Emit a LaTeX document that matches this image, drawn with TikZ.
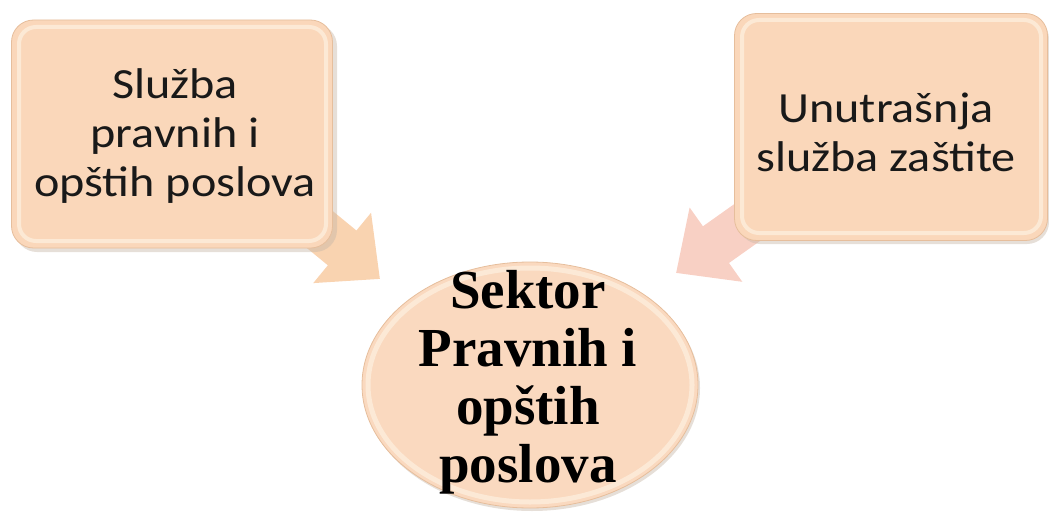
\documentclass[tikz,border=0pt]{standalone}
\usepackage{fontspec}
\setmainfont{Carlito}[FakeStretch=1.12]
\newfontfamily\serifbold{Liberation Serif Bold}
\usetikzlibrary{arrows.meta,shapes.geometric}
\definecolor{peach}{HTML}{FAD7BA}
\definecolor{peachrim}{HTML}{FDEEDC}
\definecolor{peachedge}{HTML}{E6BE9C}
\definecolor{arrowL}{HTML}{F9D3B0}
\definecolor{arrowR}{HTML}{F8D0C4}
\definecolor{circfill}{HTML}{FAD9BF}
\definecolor{shadowc}{HTML}{C8B8A8}
\tikzset{
  boxnode/.style={rounded corners=22pt, fill=peach, draw=peachedge, line width=0.8pt, inner sep=0pt},
  boxtext/.style={align=center, text=black!90, font=\fontsize{43}{49}\selectfont},
  ellnode/.style={ellipse, fill=circfill, draw=peachedge, line width=0.8pt, inner sep=0pt},
  elltext/.style={align=center, font=\serifbold\fontsize{55}{58}\selectfont},
  rim/.style={peachrim, line width=4pt, opacity=0.8},
  shade/.style={shadowc, opacity=0.45},
  bigarrow/.style={line width=45pt, -{Triangle[length=49pt,width=88pt]}},
}
\begin{document}
\begin{tikzpicture}[x=1pt,y=-1pt]
\useasboundingbox (0,0) rectangle (1049,519);
% arrows (behind boxes)
\coordinate (s1) at (296,210);
\coordinate (t1) at (380,279);
\coordinate (s2) at (762,212);
\coordinate (t2) at (676,273);
\draw[bigarrow, draw=arrowL, fill=arrowL] (s1) -- (t1);
\draw[bigarrow, draw=arrowR, fill=arrowR] (s2) -- (t2);
% shadows
\fill[shade, rounded corners=22pt] (15,24) rectangle (337,252);
\fill[shade, rounded corners=22pt] (738,17) rectangle (1049,244);
\fill[shade] (532,388) ellipse [x radius=168, y radius=123];
% boxes
\node[boxnode, minimum width=321pt, minimum height=228pt] (L) at (172,134) {};
\draw[rim, rounded corners=17pt] (19,27) rectangle (326,241);
\node[boxtext] (Lt) at (175,136) {Služba\\pravnih i\\opštih poslova};
\node[boxnode, minimum width=313pt, minimum height=227pt] (R) at (891,127) {};
\draw[rim, rounded corners=17pt] (742,20) rectangle (1041,233);
\node[boxtext] (Rt) at (886,132) {Unutrašnja\\služba zaštite};
% circle
\node[ellnode, minimum width=336pt, minimum height=246pt] (C) at (530,385) {};
\draw[rim, line width=5pt] (C.center) ellipse [x radius=162, y radius=117];
\node[elltext] (Ct) at (528,382) {Sektor\\Pravnih i\\opštih\\poslova};
\end{tikzpicture}
\end{document}
